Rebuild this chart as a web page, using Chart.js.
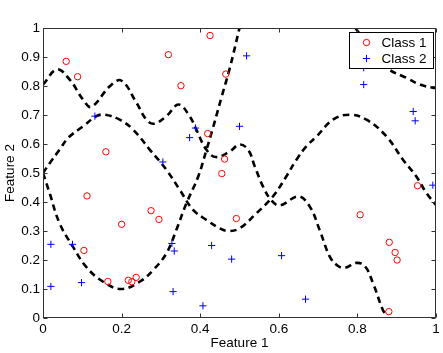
<!DOCTYPE html>
<html lang="en">
<head>
<meta charset="UTF-8">
<script src="https://cdn.jsdelivr.net/npm/chart.js"></script>
<title>Feature 1 vs Feature 2</title>
<style>
  html, body { margin: 0; padding: 0; background: #fff; }
</style>
</head>
<body>
<canvas id="chart" width="443" height="353"></canvas>
<script>
// class samples
const class1X = [0.059, 0.088, 0.160, 0.425, 0.319, 0.465, 0.351, 0.419, 0.462, 0.455, 0.275, 0.295, 0.492,
                 0.112, 0.200, 0.104, 0.165, 0.217, 0.226, 0.237, 0.953, 0.807, 0.881, 0.896, 0.901, 0.880];
const class1Y = [0.885, 0.832, 0.573, 0.974, 0.908, 0.841, 0.801, 0.636, 0.548, 0.498, 0.370, 0.340, 0.343,
                 0.421, 0.323, 0.233, 0.126, 0.130, 0.125, 0.140, 0.456, 0.356, 0.261, 0.226, 0.200, 0.022];
const class2X = [0.132, 0.518, 0.388, 0.373, 0.500, 0.305, 0.816, 0.816, 0.942, 0.947, 0.020, 0.075,
                 0.020, 0.098, 0.328, 0.334, 0.429, 0.480, 0.607, 0.331, 0.407, 0.992, 0.668];
const class2Y = [0.696, 0.904, 0.655, 0.622, 0.661, 0.538, 0.805, 0.863, 0.712, 0.680, 0.254, 0.254,
                 0.109, 0.122, 0.257, 0.231, 0.250, 0.203, 0.215, 0.091, 0.042, 0.458, 0.065];

// dashed boundary curves
const curveAX = [0, 0.036, 0.068, 0.102, 0.123, 0.170, 0.199, 0.238, 0.263, 0.283, 0.314, 0.345, 0.373, 0.390,
                 0.416, 0.440, 0.475, 0.500, 0.522, 0.539, 0.560, 0.580, 0.602, 0.650, 0.679, 0.704, 0.730,
                 0.750, 0.768, 0.797, 0.819, 0.840, 0.865, 0.874];
const curveAY = [0.805, 0.857, 0.822, 0.753, 0.728, 0.799, 0.819, 0.742, 0.684, 0.670, 0.696, 0.736, 0.696, 0.650,
                 0.580, 0.555, 0.574, 0.598, 0.580, 0.522, 0.453, 0.408, 0.388, 0.419, 0.384, 0.303, 0.211,
                 0.180, 0.173, 0.190, 0.179, 0.119, 0.027, 0.012];
const curveBX = [0, 0.017, 0.042, 0.076, 0.110, 0.153, 0.199, 0.246, 0.280, 0.314, 0.339, 0.365, 0.395,
                 0.416, 0.433, 0.455, 0.475, 0.500];
const curveBY = [0.500, 0.430, 0.327, 0.246, 0.176, 0.125, 0.100, 0.125, 0.165, 0.223, 0.303, 0.396, 0.488,
                 0.580, 0.658, 0.765, 0.860, 1.000];
const curveCX = [0, 0.017, 0.042, 0.064, 0.102, 0.136, 0.157, 0.195, 0.229, 0.272, 0.314, 0.348, 0.382, 0.416,
                 0.450, 0.471, 0.500, 0.543, 0.585, 0.619, 0.645, 0.670, 0.696, 0.738, 0.780, 0.823, 0.874,
                 0.916, 0.950, 0.976, 1.000];
const curveCY = [0.500, 0.534, 0.580, 0.621, 0.661, 0.696, 0.701, 0.684, 0.650, 0.580, 0.511, 0.442, 0.373, 0.338,
                 0.309, 0.300, 0.309, 0.361, 0.419, 0.488, 0.546, 0.592, 0.626, 0.684, 0.701, 0.684, 0.626,
                 0.546, 0.488, 0.430, 0.390];
const curveDX = [0.795, 0.835, 0.878, 0.925, 0.959, 0.992, 1.000];
const curveDY = [1.000, 0.925, 0.860, 0.828, 0.805, 0.794, 0.793];

const xTicks = [0, 0.2, 0.4, 0.6, 0.8, 1];
const xTickLabels = ['0', '0.2', '0.4', '0.6', '0.8', '1'];
const yTicks = [0, 0.1, 0.2, 0.3, 0.4, 0.5, 0.6, 0.7, 0.8, 0.9, 1];
const yTickLabels = ['0', '0.1', '0.2', '0.3', '0.4', '0.5', '0.6', '0.7', '0.8', '0.9', '1'];

function toPoints(xs, ys) {
    return xs.map((x, i) => ({x: x, y: ys[i]}));
}

function curve(xs, ys) {
    return {
        label: '',
        data: toPoints(xs, ys),
        showLine: true,
        borderColor: '#000',
        borderWidth: 2.6,
        borderDash: [6.5, 4.5],
        pointRadius: 0,
        tension: 0.4,
        clip: 0
    };
}

Chart.defaults.font.family = "'Liberation Sans', Arial, sans-serif";
Chart.defaults.font.size = 13.5;
Chart.defaults.color = '#000';

// box + inward tick marks, matlab style
const frame = {
    id: 'frame',
    afterDatasetsDraw(chart) {
        const {ctx, chartArea: a, scales} = chart;
        const l = Math.round(a.left) + 0.5, r = Math.round(a.right) - 0.5;
        const t = Math.round(a.top) + 0.5, b = Math.round(a.bottom) - 0.5;
        ctx.save();
        ctx.strokeStyle = '#333';
        ctx.lineWidth = 1;
        ctx.strokeRect(l, t, r - l, b - t);
        ctx.beginPath();
        scales.x.ticks.forEach(tk => {
            const px = Math.round(scales.x.getPixelForValue(tk.value)) + 0.5;
            ctx.moveTo(px, b); ctx.lineTo(px, b - 4);
            ctx.moveTo(px, t); ctx.lineTo(px, t + 4);
        });
        scales.y.ticks.forEach(tk => {
            const py = Math.round(scales.y.getPixelForValue(tk.value)) + 0.5;
            ctx.moveTo(l, py); ctx.lineTo(l + 4, py);
            ctx.moveTo(r, py); ctx.lineTo(r - 4, py);
        });
        ctx.stroke();
        ctx.restore();
    }
};

// legend box in the top right corner
const boxLegend = {
    id: 'boxLegend',
    afterDraw(chart) {
        const {ctx, chartArea: a} = chart;
        const ds = chart.data.datasets;
        const x0 = 349.5, y0 = 32.5, w = 84, h = 36;
        ctx.save();
        ctx.fillStyle = '#fff';
        ctx.strokeStyle = '#000';
        ctx.lineWidth = 1;
        ctx.fillRect(x0, y0, w, h);
        ctx.strokeRect(x0, y0, w, h);
        ctx.font = "13.5px 'Liberation Sans', Arial, sans-serif";
        ctx.textBaseline = 'middle';
        ctx.fillStyle = '#000';
        [0, 1].forEach(i => {
            const cy = y0 + 10 + i * 16;
            ctx.strokeStyle = ds[i].borderColor;
            ctx.lineWidth = 1;
            ctx.beginPath();
            if (ds[i].pointStyle === 'circle') {
                ctx.arc(x0 + 17, cy, ds[i].pointRadius, 0, Math.PI * 2);
            } else {
                ctx.moveTo(x0 + 17 - ds[i].pointRadius, cy); ctx.lineTo(x0 + 17 + ds[i].pointRadius, cy);
                ctx.moveTo(x0 + 17, cy - ds[i].pointRadius); ctx.lineTo(x0 + 17, cy + ds[i].pointRadius);
            }
            ctx.stroke();
            ctx.fillText(ds[i].label, x0 + 32, cy + 1);
        });
        ctx.restore();
    }
};

new Chart(document.getElementById('chart'), {
    type: 'scatter',
    data: {
        datasets: [
            {
                label: 'Class 1',
                data: toPoints(class1X, class1Y),
                pointStyle: 'circle',
                pointRadius: 3.2,
                borderColor: '#ff0000',
                backgroundColor: 'rgba(0,0,0,0)',
                borderWidth: 1,
                clip: 0
            },
            {
                label: 'Class 2',
                data: toPoints(class2X, class2Y),
                pointStyle: 'cross',
                pointRadius: 3.6,
                borderColor: '#0000ff',
                backgroundColor: '#0000ff',
                borderWidth: 1,
                clip: 0
            },
            curve(curveAX, curveAY),
            curve(curveBX, curveBY),
            curve(curveCX, curveCY),
            curve(curveDX, curveDY)
        ]
    },
    options: {
        responsive: false,
        animation: false,
        events: [],
        layout: {padding: {top: 28, right: 7, left: 0, bottom: 0}},
        plugins: {legend: {display: false}, tooltip: {enabled: false}},
        scales: {
            x: {
                type: 'linear',
                min: 0,
                max: 1,
                afterBuildTicks: s => { s.ticks = xTicks.map(v => ({value: v})); },
                afterFit: s => { s.height = 35; },
                grid: {display: false, drawTicks: false},
                border: {display: false},
                ticks: {
                    padding: 3,
                    maxRotation: 0,
                    autoSkip: false,
                    callback: (v, i) => xTickLabels[i]
                },
                title: {display: true, text: 'Feature 1', padding: {top: 0, bottom: 2}}
            },
            y: {
                type: 'linear',
                min: 0,
                max: 1,
                afterBuildTicks: s => { s.ticks = yTicks.map(v => ({value: v})); },
                afterFit: s => { s.width = 43; },
                grid: {display: false, drawTicks: false},
                border: {display: false},
                ticks: {
                    padding: 3,
                    autoSkip: false,
                    callback: (v, i) => yTickLabels[i]
                },
                title: {display: true, text: 'Feature 2', padding: {top: 2, bottom: 0}}
            }
        }
    },
    plugins: [frame, boxLegend]
});
</script>
</body>
</html>
